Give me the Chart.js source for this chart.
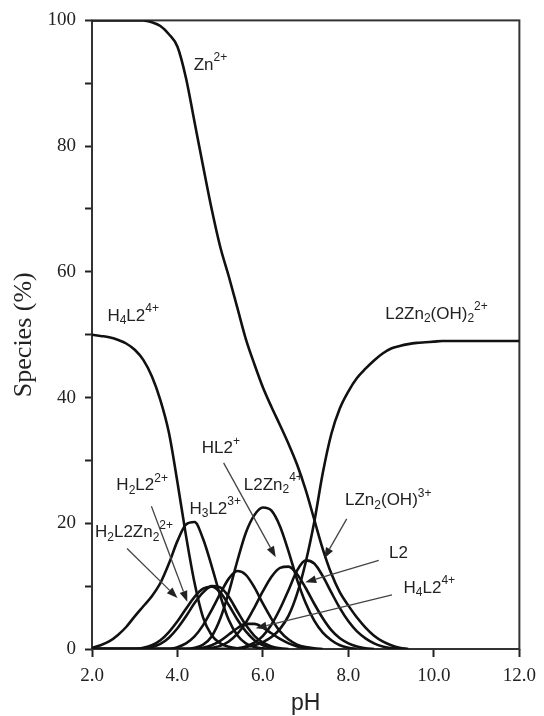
<!DOCTYPE html>
<html>
<head>
<meta charset="utf-8">
<script src="https://cdn.jsdelivr.net/npm/chart.js@4"></script>
<style>
  html, body { margin: 0; padding: 0; background: #fff; }
  canvas { display: block; }
</style>
</head>
<body>
<canvas id="speciesChart" width="544" height="716"></canvas>
<script>
// pH grid (step 0.2)
var pH = [2.0, 2.2, 2.4, 2.6, 2.8, 3.0, 3.2, 3.4, 3.6, 3.8,
          4.0, 4.2, 4.4, 4.6, 4.8, 5.0, 5.2, 5.4, 5.6, 5.8,
          6.0, 6.2, 6.4, 6.6, 6.8, 7.0, 7.2, 7.4, 7.6, 7.8,
          8.0, 8.2, 8.4, 8.6, 8.8, 9.0, 9.2, 9.4, 9.6, 9.8,
          10.0, 10.2, 10.4, 10.6, 10.8, 11.0, 11.2, 11.4, 11.6, 11.8, 12.0];

// species (%), one value per pH point (series stop where they reach 0)
var zn = [100, 100, 100, 100, 100, 100, 100, 99.7, 99.1, 97.8,
          95.8, 90.8, 83.8, 76.8, 70.0, 64.0, 59.3, 54.3, 49.3, 45.3,
          41.6, 38.5, 35.6, 32.6, 29.3, 25.3, 20.6, 15.9, 12.0, 9.0,
          6.9, 5.0, 3.4, 2.1, 1.2, 0.6, 0.2, 0];
var h4l2 = [50, 49.8, 49.6, 49.2, 48.6, 47.6, 46.0, 43.4, 39.6, 34.4,
            26.5, 18.0, 10.5, 5.0, 2.2, 0.9, 0.35, 0.1, 0];
var l2zn2oh2 = [0, 0, 0, 0, 0, 0, 0, 0, 0, 0,
                0, 0, 0, 0, 0, 0, 0, 0, 0.3, 0.6,
                1.1, 1.9, 3.2, 5.3, 8.8, 13.8, 20.2, 28.0, 34.2, 38.3,
                41.0, 43.1, 44.6, 45.9, 47.0, 47.8, 48.2, 48.5, 48.7, 48.8,
                48.9, 49, 49, 49, 49, 49, 49, 49, 49, 49, 49];
var h3l2 = [0.2, 0.6, 1.2, 2.2, 3.5, 5.2, 6.8, 8.4, 10.5, 13.6,
            17.2, 19.8, 20.2, 17.5, 13.2, 8.5, 4.6, 2.2, 0.9, 0.3,
            0.1, 0];
var h2l2zn2 = [0, 0, 0, 0, 0, 0, 0.2, 0.6, 1.4, 2.7,
               4.4, 6.4, 8.3, 9.6, 9.9, 9.0, 7.0, 4.7, 2.8, 1.4,
               0.6, 0.2, 0];
var h2l2 = [0, 0, 0, 0, 0, 0, 0, 0.3, 0.8, 1.8,
            3.3, 5.2, 7.3, 9.0, 10.0, 9.8, 8.3, 6.0, 3.8, 2.1,
            1.0, 0.4, 0.1, 0];
var hl2 = [0, 0, 0, 0, 0, 0, 0, 0, 0, 0,
           0.3, 0.9, 2.0, 3.8, 6.2, 8.8, 11.2, 12.4, 11.8, 9.8,
           7.2, 4.8, 2.8, 1.5, 0.7, 0.3, 0.1, 0];
var l2zn2 = [0, 0, 0, 0, 0, 0, 0, 0, 0, 0,
             0, 0, 0.2, 0.7, 2.0, 4.8, 9.0, 14.0, 18.5, 21.3,
             22.5, 22.0, 19.5, 15.5, 11.0, 7.3, 4.5, 2.6, 1.4, 0.6,
             0.2, 0];
var l2 = [0, 0, 0, 0, 0, 0, 0, 0, 0, 0,
          0, 0, 0, 0, 0.2, 0.5, 1.2, 2.4, 4.2, 6.6,
          9.2, 11.5, 12.9, 13.1, 11.9, 9.7, 7.2, 4.9, 3.0, 1.7,
          0.9, 0.4, 0.1, 0];
var lzn2oh = [0, 0, 0, 0, 0, 0, 0, 0, 0, 0,
              0, 0, 0, 0, 0, 0, 0, 0.1, 0.4, 1.0,
              2.1, 3.9, 6.4, 9.4, 12.5, 14.1, 13.6, 11.6, 9.0, 6.5,
              4.4, 2.8, 1.7, 0.9, 0.4, 0.15, 0];
var minor = [0, 0, 0, 0, 0, 0, 0, 0, 0, 0,
             0, 0, 0, 0.2, 0.6, 1.3, 2.3, 3.3, 4.0, 4.0,
             3.4, 2.5, 1.6, 0.9, 0.4, 0.15, 0];

var seriesNames = ['Zn2+', 'H4L2 4+', 'L2Zn2(OH)2 2+', 'H3L2 3+', 'H2L2Zn2 2+', 'H2L2 2+',
                   'HL2+', 'L2Zn2 4+', 'L2', 'LZn2(OH)3+', 'minor'];
var seriesValues = [zn, h4l2, l2zn2oh2, h3l2, h2l2zn2, h2l2, hl2, l2zn2, l2, lzn2oh, minor];

// curve labels: text parts (plain / sub / sup), left edge and middle in data units
var curveLabels = [
  { parts: [['Zn'], ['2+', 'sup']], x: 4.38, y: 92.9 },
  { parts: [['H'], ['4', 'sub'], ['L2'], ['4+', 'sup']], x: 2.36, y: 53.0 },
  { parts: [['L2Zn'], ['2', 'sub'], ['(OH)'], ['2', 'sub'], ['2+', 'sup']], x: 8.86, y: 53.3 },
  { parts: [['HL2'], ['+', 'sup']], x: 4.57, y: 31.9 },
  { parts: [['L2Zn'], ['2', 'sub'], ['4+', 'sup']], x: 5.55, y: 26.1 },
  { parts: [['H'], ['2', 'sub'], ['L2'], ['2+', 'sup']], x: 2.57, y: 26.0 },
  { parts: [['H'], ['3', 'sub'], ['L2'], ['3+', 'sup']], x: 4.28, y: 22.3 },
  { parts: [['H'], ['2', 'sub'], ['L2Zn'], ['2', 'sub'], ['2+', 'sup']], x: 2.07, y: 18.5 },
  { parts: [['LZn'], ['2', 'sub'], ['(OH)'], ['3+', 'sup']], x: 7.92, y: 23.6 },
  { parts: [['L2']], x: 8.95, y: 15.2 },
  { parts: [['H'], ['4', 'sub'], ['L2'], ['4+', 'sup']], x: 9.29, y: 9.7 }
];
var arrowFrom = [[5.08, 29.6], [3.39, 22.7], [2.82, 16.0], [7.96, 20.7], [8.71, 14.1], [9.02, 8.6]];
var arrowTo   = [[6.30, 14.6], [4.23, 7.5],  [4.00, 8.1],  [7.43, 14.4], [6.99, 10.6], [5.83, 3.3]];

var SANS = '"Liberation Sans", Arial, sans-serif';
var SERIF = '"Liberation Serif", "Times New Roman", serif';

function drawRich(ctx, parts, x, y) {
  var cx = x;
  parts.forEach(function (p) {
    var size = p[1] ? 12 : 17;
    var dy = p[1] === 'sup' ? -7 : (p[1] === 'sub' ? 5 : 0);
    ctx.font = size + 'px ' + SANS;
    ctx.fillText(p[0], cx, y + dy);
    cx += ctx.measureText(p[0]).width;
  });
}

var decorPlugin = {
  id: 'decor',
  beforeDatasetsDraw: function (chart) {
    var ctx = chart.ctx, a = chart.chartArea;
    ctx.save();
    ctx.strokeStyle = '#333';
    ctx.lineWidth = 2;
    ctx.strokeRect(a.left, a.top, a.right - a.left, a.bottom - a.top);
    ctx.restore();
  },
  afterDraw: function (chart) {
    var ctx = chart.ctx, xs = chart.scales.x, ys = chart.scales.y, a = chart.chartArea;
    ctx.save();
    ctx.fillStyle = '#222';
    ctx.textBaseline = 'middle';
    ctx.textAlign = 'left';
    curveLabels.forEach(function (l) {
      drawRich(ctx, l.parts, xs.getPixelForValue(l.x), ys.getPixelForValue(l.y));
    });

    ctx.strokeStyle = '#444';
    ctx.fillStyle = '#222';
    ctx.lineWidth = 1.3;
    for (var i = 0; i < arrowFrom.length; i++) {
      var x0 = xs.getPixelForValue(arrowFrom[i][0]), y0 = ys.getPixelForValue(arrowFrom[i][1]);
      var x1 = xs.getPixelForValue(arrowTo[i][0]), y1 = ys.getPixelForValue(arrowTo[i][1]);
      var ang = Math.atan2(y1 - y0, x1 - x0);
      var len = 11, hw = 4;
      var bx = x1 - len * Math.cos(ang), by = y1 - len * Math.sin(ang);
      ctx.beginPath();
      ctx.moveTo(x0, y0);
      ctx.lineTo(bx, by);
      ctx.stroke();
      ctx.beginPath();
      ctx.moveTo(x1, y1);
      ctx.lineTo(bx + hw * Math.sin(ang), by - hw * Math.cos(ang));
      ctx.lineTo(bx - hw * Math.sin(ang), by + hw * Math.cos(ang));
      ctx.closePath();
      ctx.fill();
    }

    // axis titles
    ctx.fillStyle = '#222';
    ctx.textAlign = 'center';
    ctx.font = '23px ' + SANS;
    ctx.fillText('pH', (a.left + a.right) / 2, 704);
    ctx.translate(24, (a.top + a.bottom) / 2);
    ctx.rotate(-Math.PI / 2);
    ctx.font = '26px ' + SERIF;
    ctx.fillText('Species (%)', 0, 0);
    ctx.restore();
  }
};

var datasets = seriesValues.map(function (vals, k) {
  return {
    label: seriesNames[k],
    data: vals.map(function (v, i) { return { x: pH[i], y: v }; }),
    borderColor: '#111',
    borderWidth: 2.6,
    pointRadius: 0,
    fill: false,
    cubicInterpolationMode: 'monotone'
  };
});

var ctx = document.getElementById('speciesChart').getContext('2d');
var speciesChart = new Chart(ctx, {
  type: 'line',
  data: { datasets: datasets },
  options: {
    responsive: false,
    animation: false,
    layout: { padding: { top: 18, right: 13, left: 0, bottom: 0 } },
    plugins: { legend: { display: false }, tooltip: { enabled: false } },
    scales: {
      x: {
        type: 'linear', min: 2, max: 12,
        ticks: {
          stepSize: 2, padding: 8, color: '#222',
          font: { family: SERIF, size: 19 },
          callback: function (v) { return v.toFixed(1); }
        },
        grid: { drawOnChartArea: false, drawTicks: true, tickLength: 8, tickWidth: 2, tickColor: '#222' },
        border: { display: false },
        afterFit: function (s) { s.height = 67; }
      },
      y: {
        min: 0, max: 100,
        ticks: {
          stepSize: 10, padding: 9, color: '#222',
          font: { family: SERIF, size: 19 },
          callback: function (v) { return v % 20 === 0 ? v : ''; }
        },
        grid: { drawOnChartArea: false, drawTicks: true, tickLength: 7, tickWidth: 2, tickColor: '#222' },
        border: { display: false },
        afterFit: function (s) { s.width = 92; }
      }
    }
  },
  plugins: [decorPlugin]
});
</script>
</body>
</html>
